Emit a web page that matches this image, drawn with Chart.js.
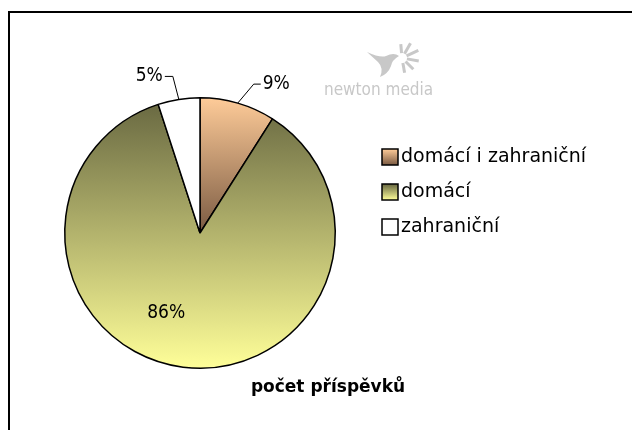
<!DOCTYPE html>
<html>
<head>
<meta charset="utf-8">
<script src="https://cdn.jsdelivr.net/npm/chart.js@4/dist/chart.umd.min.js"></script>
<style>
  html, body { margin: 0; padding: 0; background: #fff; }
  #wrap { position: relative; width: 632px; height: 430px; }
</style>
</head>
<body>
<div id="wrap"><canvas id="pie" width="632" height="430"></canvas></div>
<script>
// data
const categories = ['domácí i zahraniční', 'domácí', 'zahraniční'];
const shares = [9, 86, 5];
const chartTitle = 'počet příspěvků';

const FONT = '"DejaVu Sans", sans-serif';
const LABEL_FONT = '"DejaVu Sans Condensed", "DejaVu Sans", sans-serif';

// label placement: leader = elbow offset from slice edge, then a short horizontal run
const labelStyle = [
    { kind: 'leader', elbow: [16, -19], run: 7 },
    { kind: 'inside', at: [-0.25, 0.59] },
    { kind: 'leader', elbow: [-6, -23], run: -8 }
];

function fillFor(ctx, i, top, bottom) {
    const g = ctx.createLinearGradient(0, top, 0, bottom);
    if (i === 0) {
        g.addColorStop(0, '#ffcc99');
        g.addColorStop(1, '#7a5a42');
    } else if (i === 1) {
        g.addColorStop(0, '#666640');
        g.addColorStop(1, '#ffff99');
    } else {
        return '#ffffff';
    }
    return g;
}

const extras = {
    id: 'extras',
    afterDraw(chart) {
        const ctx = chart.ctx;
        const meta = chart.getDatasetMeta(0);
        ctx.save();

        // frame (left + top only, as cropped)
        ctx.strokeStyle = '#000';
        ctx.lineWidth = 2;
        ctx.beginPath();
        ctx.moveTo(9, 430);
        ctx.lineTo(9, 12);
        ctx.lineTo(632, 12);
        ctx.stroke();

        // watermark logo
        ctx.fillStyle = '#c8c8c8';
        ctx.strokeStyle = '#c8c8c8';
        ctx.beginPath();
        ctx.moveTo(367, 52);
        ctx.quadraticCurveTo(380, 58, 386, 56);
        ctx.quadraticCurveTo(394, 52, 399, 56);
        ctx.quadraticCurveTo(392, 60, 391, 66);
        ctx.quadraticCurveTo(388, 74, 380, 77);
        ctx.quadraticCurveTo(384, 68, 378, 62);
        ctx.closePath();
        ctx.fill();
        const rays = [[-60, 12], [-25, 13], [10, 12], [45, 11], [80, 10], [-95, 9]];
        rays.forEach(([a, len]) => {
            const r = a * Math.PI / 180;
            ctx.lineWidth = 3;
            ctx.beginPath();
            ctx.moveTo(402 + Math.cos(r) * 5, 58 + Math.sin(r) * 5);
            ctx.lineTo(402 + Math.cos(r) * (5 + len), 58 + Math.sin(r) * (5 + len));
            ctx.stroke();
        });
        ctx.font = '200 17px ' + LABEL_FONT;
        ctx.textBaseline = 'alphabetic';
        ctx.textAlign = 'left';
        ctx.fillText('newton media', 324, 95);

        // value labels
        const total = shares.reduce((a, b) => a + b, 0);
        ctx.fillStyle = '#000';
        ctx.strokeStyle = '#000';
        ctx.lineWidth = 1;
        ctx.font = '19px ' + LABEL_FONT;
        ctx.textBaseline = 'middle';
        meta.data.forEach((arc, i) => {
            const p = arc.getProps(['x', 'y', 'startAngle', 'endAngle', 'outerRadius'], true);
            const mid = (p.startAngle + p.endAngle) / 2;
            const txt = Math.round(shares[i] / total * 100) + '%';
            const st = labelStyle[i];
            if (st.kind === 'inside') {
                ctx.textAlign = 'center';
                ctx.fillText(txt, p.x + st.at[0] * p.outerRadius, p.y + st.at[1] * p.outerRadius);
                return;
            }
            const ex = p.x + Math.cos(mid) * p.outerRadius;
            const ey = p.y + Math.sin(mid) * p.outerRadius;
            const bx = ex + st.elbow[0], by = ey + st.elbow[1];
            ctx.beginPath();
            ctx.moveTo(ex, ey);
            ctx.lineTo(bx, by);
            ctx.lineTo(bx + st.run, by);
            ctx.stroke();
            ctx.textAlign = st.run > 0 ? 'left' : 'right';
            ctx.fillText(txt, bx + st.run + (st.run > 0 ? 2 : -2), by);
        });

        // legend
        ctx.font = '19px ' + FONT;
        ctx.textAlign = 'left';
        categories.forEach((name, i) => {
            const cy = 157 + i * 35;
            const sx = 382, sy = cy - 8, s = 16;
            ctx.fillStyle = fillFor(ctx, i, sy, sy + s);
            ctx.fillRect(sx, sy, s, s);
            ctx.lineWidth = 1.5;
            ctx.strokeStyle = '#000';
            ctx.strokeRect(sx, sy, s, s);
            ctx.fillStyle = '#000';
            ctx.fillText(name, 401, cy);
        });

        // title below the pie
        ctx.font = 'bold 17px ' + FONT;
        ctx.textAlign = 'center';
        ctx.fillText(chartTitle, 328, 388);
        ctx.restore();
    }
};

new Chart(document.getElementById('pie'), {
    type: 'pie',
    data: {
        labels: categories,
        datasets: [{
            data: shares,
            backgroundColor: (c) => {
                const area = c.chart.chartArea;
                if (!area) return '#ccc';
                if (c.dataIndex === 0) return fillFor(c.chart.ctx, 0, area.top, (area.top + area.bottom) / 2);
                return fillFor(c.chart.ctx, c.dataIndex, area.top, area.bottom);
            },
            borderColor: '#000',
            borderWidth: 1.5
        }]
    },
    options: {
        responsive: false,
        animation: false,
        events: [],
        layout: { padding: { left: 64, top: 97, right: 296, bottom: 61 } },
        plugins: {
            legend: { display: false },
            tooltip: { enabled: false },
            title: { display: false }
        }
    },
    plugins: [extras]
});
</script>
</body>
</html>
